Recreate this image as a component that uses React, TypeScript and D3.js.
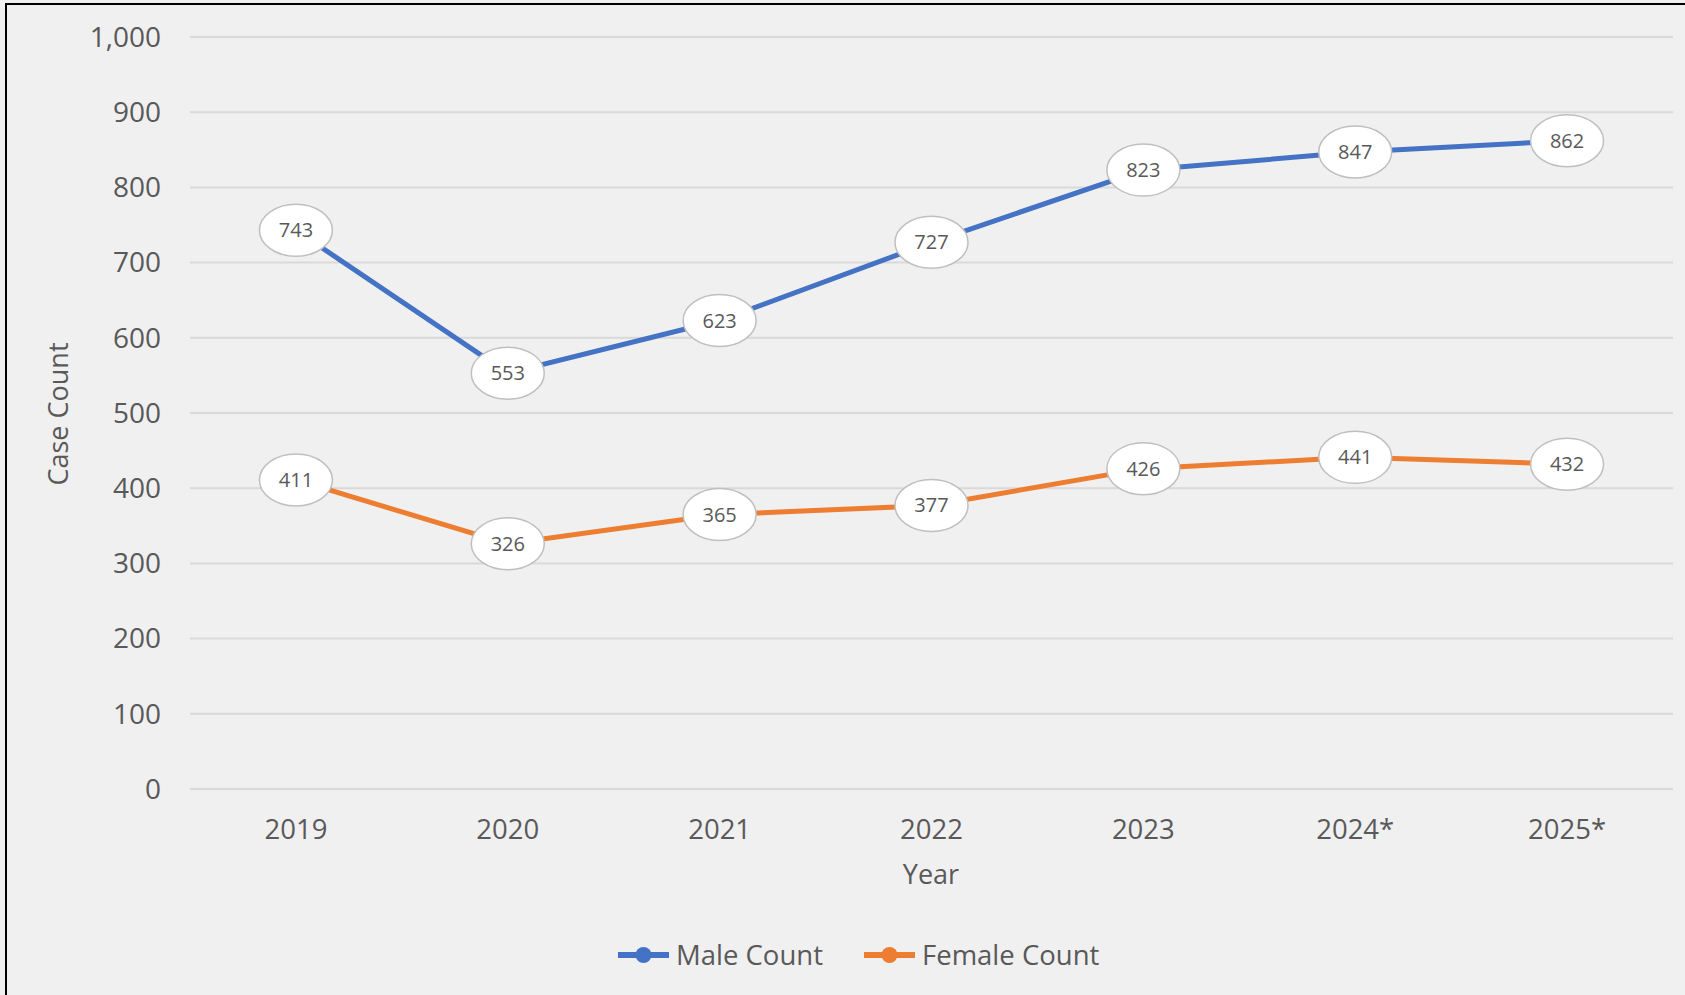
import React from "react";
import * as d3 from "d3";

const years = ["2019", "2020", "2021", "2022", "2023", "2024*", "2025*"];
const maleCounts = [743, 553, 623, 727, 823, 847, 862];
const femaleCounts = [411, 326, 365, 377, 426, 441, 432];
const yTicks = [0, 100, 200, 300, 400, 500, 600, 700, 800, 900, 1000];
const seriesNames = ["Male Count", "Female Count"];
const seriesColors = ["#4472C4", "#ED7D31"];

const W = 1685;
const H = 995;
const FONT = "'Open Sans', 'Noto Sans', sans-serif";
const TEXT = "#595959";

export default function App() {
  const x = d3.scaleBand<string>().domain(years).range([190, 1673]);
  const y = d3.scaleLinear().domain([0, 1000]).range([789, 37]);
  const fmt = d3.format(",");
  const line = d3
    .line<number>()
    .x((_, i) => (x(years[i]) as number) + x.bandwidth() / 2)
    .y((d) => y(d));
  const series = [maleCounts, femaleCounts];
  const legendX = [618, 864];

  return (
    <svg
      width={W}
      height={H}
      style={{ position: "absolute", left: 0, top: 0, display: "block" }}
      fontFamily={FONT}
    >
      <rect x={0} y={0} width={W} height={H} fill="#F0F0F0" />
      <rect x={6} y={4} width={W + 10} height={H + 10} fill="none" stroke="#000" strokeWidth={2} />
      {yTicks.map((t) => (
        <g key={t}>
          <line x1={190} x2={1673} y1={y(t)} y2={y(t)} stroke="#D9D9D9" strokeWidth={2} />
          <text x={161} y={y(t)} dy="0.35em" textAnchor="end" fontSize={28} fill={TEXT}>
            {fmt(t)}
          </text>
        </g>
      ))}
      {years.map((yr) => (
        <text
          key={yr}
          x={(x(yr) as number) + x.bandwidth() / 2}
          y={829}
          dy="0.35em"
          textAnchor="middle"
          fontSize={27.5}
          fill={TEXT}
        >
          {yr}
        </text>
      ))}
      <text x={931} y={875} dy="0.35em" textAnchor="middle" fontSize={27} fill={TEXT}>
        Year
      </text>
      <text
        transform={`translate(59,414) rotate(-90)`}
        dy="0.35em"
        textAnchor="middle"
        fontSize={27}
        fill={TEXT}
      >
        Case Count
      </text>
      {series.map((s, si) => (
        <path
          key={si}
          d={line(s) as string}
          fill="none"
          stroke={seriesColors[si]}
          strokeWidth={5}
          strokeLinejoin="round"
        />
      ))}
      {series.map((s, si) =>
        s.map((v, i) => {
          const cx = (x(years[i]) as number) + x.bandwidth() / 2;
          const cy = y(v);
          return (
            <g key={`${si}-${i}`}>
              <ellipse cx={cx} cy={cy} rx={36.5} ry={26} fill="#FFFFFF" stroke="#BFBFBF" strokeWidth={1.5} />
              <text x={cx} y={cy} dy="0.35em" textAnchor="middle" fontSize={20} fill={TEXT}>
                {v}
              </text>
            </g>
          );
        })
      )}
      {seriesNames.map((name, i) => {
        const x0 = legendX[i];
        const cy = 955;
        return (
          <g key={name}>
            <line x1={x0} x2={x0 + 51} y1={cy} y2={cy} stroke={seriesColors[i]} strokeWidth={6} />
            <circle cx={x0 + 25.5} cy={cy} r={8} fill={seriesColors[i]} />
            <text x={x0 + 58} y={cy} dy="0.35em" fontSize={27.5} fill={TEXT}>
              {name}
            </text>
          </g>
        );
      })}
    </svg>
  );
}
